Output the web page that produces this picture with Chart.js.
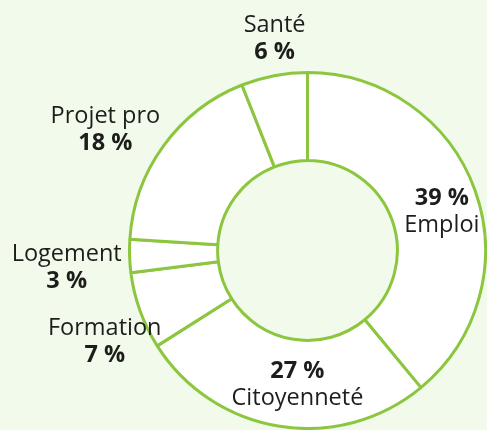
<!DOCTYPE html>
<html lang="fr">
<head>
<meta charset="utf-8">
<title>Répartition</title>
<script src="https://cdn.jsdelivr.net/npm/chart.js@4"></script>
<style>
  html, body { margin: 0; padding: 0; background: #f1faeb; }
  #wrap { width: 487px; height: 430px; }
</style>
</head>
<body>
<div id="wrap"><canvas id="donut" width="487" height="430"></canvas></div>
<script>
// données
const categories = ['Emploi', 'Citoyenneté', 'Formation', 'Logement', 'Projet pro', 'Santé'];
const percents = [39, 27, 7, 3, 18, 6];
const insideLabels = ['Emploi', 'Citoyenneté'];

// placement des étiquettes : [décalage du rayon extérieur (px), décalage angulaire (°)]
const labelPlacement = [[-40, 6.6], [-37, -4.9], [47, -5.9], [64, -3.9], [54, -6.6], [30, 1.7]];

const GREEN = '#8cc63f';
const INK = '#1d1d1b';
const FONT = '"Open Sans", sans-serif';

const donutLabels = {
  id: 'donutLabels',
  afterDatasetsDraw(chart) {
    const ctx = chart.ctx;
    const meta = chart.getDatasetMeta(0);
    ctx.save();
    ctx.textAlign = 'center';
    ctx.textBaseline = 'alphabetic';
    ctx.fillStyle = INK;
    meta.data.forEach((arc, i) => {
      const p = arc.getProps(['x', 'y', 'startAngle', 'endAngle', 'outerRadius'], true);
      const [dr, da] = labelPlacement[i];
      const mid = (p.startAngle + p.endAngle) / 2 + da * Math.PI / 180;
      const r = p.outerRadius + dr;
      const cx = p.x + Math.cos(mid) * r;
      const cy = p.y + Math.sin(mid) * r;
      const name = categories[i];
      const pct = percents[i] + ' %';
      const lines = insideLabels.includes(name)
        ? [[pct, 'bold'], [name, 'normal']]
        : [[name, 'normal'], [pct, 'bold']];
      lines.forEach(([txt, w], k) => {
        ctx.font = w + ' 23.5px ' + FONT;
        ctx.fillText(txt, cx, cy - 13.5 + k * 27);
      });
    });
    ctx.restore();
  }
};

new Chart(document.getElementById('donut'), {
  type: 'doughnut',
  data: {
    labels: categories,
    datasets: [{
      data: percents,
      backgroundColor: '#ffffff',
      borderColor: GREEN,
      borderWidth: 3,
      hoverOffset: 0
    }]
  },
  options: {
    responsive: false,
    animation: false,
    cutout: '50.5%',
    layout: { padding: { left: 128, top: 71, right: 0, bottom: 0 } },
    plugins: {
      legend: { display: false },
      tooltip: { enabled: false }
    }
  },
  plugins: [donutLabels]
});
</script>
</body>
</html>
